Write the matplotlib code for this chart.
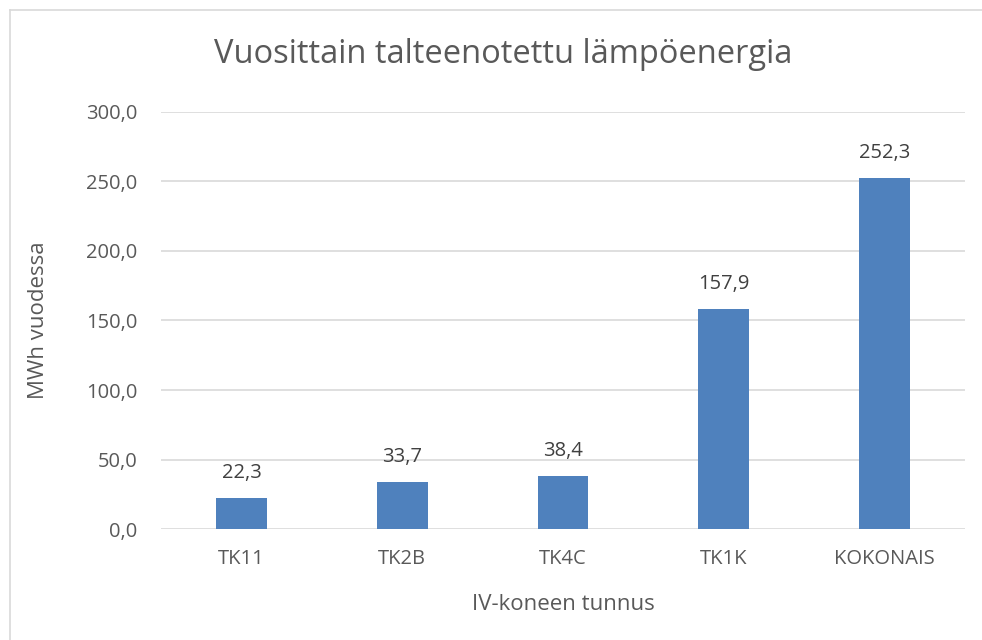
import matplotlib
matplotlib.use('Agg')
import matplotlib.pyplot as plt
from matplotlib.lines import Line2D

koneet = ["TK11", "TK2B", "TK4C", "TK1K", "KOKONAIS"]
energia = [22.3, 33.7, 38.4, 157.9, 252.3]
y_ticks = [0, 50, 100, 150, 200, 250, 300]

plt.rcParams['font.family'] = ['Open Sans', 'DejaVu Sans']

fig = plt.figure(figsize=(9.82, 6.4), dpi=100)
ax = fig.add_axes([0.164, 0.173, 0.8187, 0.6525])

x = range(len(koneet))
ax.bar(x, energia, width=0.315, color='#4F81BD', zorder=3)
for xi, v in zip(x, energia):
    ax.text(xi, v + 11, f"{v:.1f}".replace('.', ','), ha='center', va='bottom',
            fontsize=14.5, color='#404040')

ax.set_xlim(-0.5, len(koneet) - 0.5)
ax.set_ylim(0, 300)
ax.set_yticks(y_ticks)
ax.set_yticklabels([f"{t:.1f}".replace('.', ',') for t in y_ticks])
ax.set_xticks(list(x))
ax.set_xticklabels(koneet)
ax.tick_params(axis='both', length=0, labelsize=14.5, colors='#595959')
ax.tick_params(axis='y', pad=17)
ax.tick_params(axis='x', pad=14)
ax.grid(axis='y', color='#D9D9D9', linewidth=1.2, zorder=0)
for s in ax.spines.values():
    s.set_visible(False)

ax.set_xlabel("IV-koneen tunnus", fontsize=16, color='#595959', labelpad=18)
ax.set_ylabel("MWh vuodessa", fontsize=16, color='#595959', labelpad=27)
fig.text(0.512, 0.915, "Vuosittain talteenotettu lämpöenergia", ha='center', va='center',
         fontsize=23.5, color='#595959')

# chart border (only top and left visible)
fig.add_artist(Line2D([10/982, 10/982], [0, 1 - 10/640], color='#D9D9D9', linewidth=1.2))
fig.add_artist(Line2D([10/982, 1], [1 - 10/640, 1 - 10/640], color='#D9D9D9', linewidth=1.2))

fig.savefig('out.png', dpi=100, facecolor='white')
